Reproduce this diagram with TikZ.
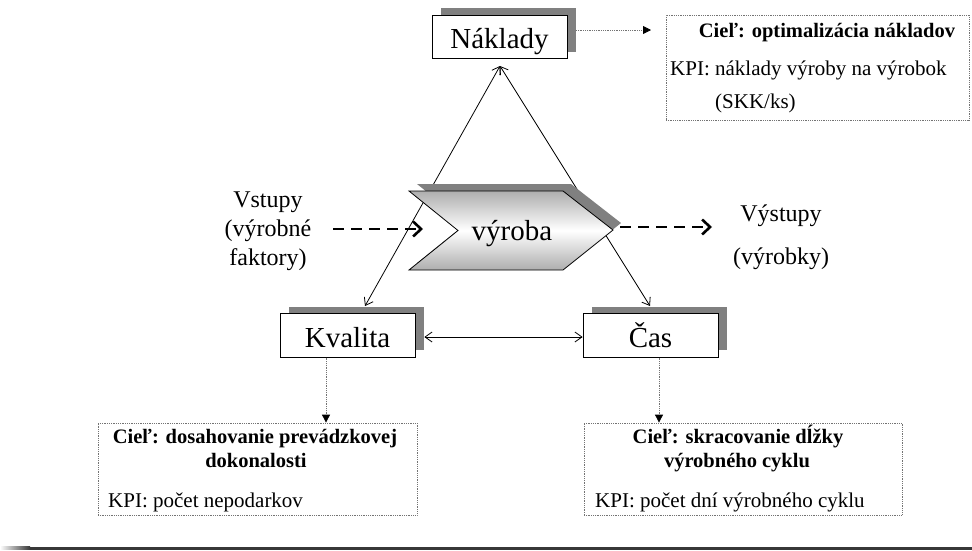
\documentclass[tikz,border=0pt]{standalone}
\usepackage{fontspec}
\setmainfont{LiberationSerif}[Extension=.ttf, UprightFont=*-Regular, BoldFont=*-Bold, ItalicFont=*-Italic, BoldItalicFont=*-BoldItalic]
\usetikzlibrary{arrows.meta,shadows,calc}

\begin{document}
\begin{tikzpicture}[x=1pt,y=-1pt,
  % labelled boxes with a grey offset shadow
  areabox/.style={draw=black, line width=0.8pt, fill=white,
    minimum width=135pt, minimum height=43.5pt, inner sep=0pt,
    text height=23pt, text depth=0pt,
    font=\fontsize{29}{34}\selectfont,
    drop shadow={shadow xshift=8.5pt, shadow yshift=7pt, fill=black!50, opacity=1}},
  % dotted goal boxes
  goalbox/.style={draw=black!55, line width=0.8pt, dash pattern=on 0.9pt off 0.9pt,
    inner sep=0pt},
  goaltxt/.style={inner sep=0pt, font=\fontsize{21}{25}\selectfont},
  goalhead/.style={inner sep=0pt, font=\fontsize{20.5}{25}\selectfont\bfseries},
  flowtxt/.style={inner sep=0pt, align=center, font=\fontsize{24}{29}\selectfont},
  link/.style={line width=0.8pt, {Straight Barb[length=7pt,width=10pt]}-{Straight Barb[length=7pt,width=10pt]}},
  dotarrow/.style={draw=black!55, line width=0.8pt, dash pattern=on 0.9pt off 0.9pt,
    -{Triangle[length=8pt,width=8pt,black]}},
  flowarrow/.style={line width=2.6pt, dash pattern=on 11pt off 7pt,
    -{Straight Barb[length=8pt,width=15pt,line width=2.6pt]}},
]
\useasboundingbox (0,0) rectangle (972,550);

% triangle of relations, passing behind the production chevron
\node[areabox] (nak) at (499.5,37) {Náklady};
\node[areabox] (kva) at (347.5,335.5) {Kvalita};
\node[areabox] (cas) at (650.5,335.5) {Čas};

\coordinate (apex) at (500,66);
\coordinate (kvT) at (365,306);
\coordinate (casT) at (650,306);
\draw[link] (apex) -- (kvT);
\draw[link] (apex) -- (casT);
\draw[link] ([xshift=9pt,yshift=-1.5pt]kva.east) -- ([yshift=-1.5pt]cas.west);

% production chevron
\fill[black!50] (417,184) -- (571,184) -- (621,223) -- (571,263) -- (417,263) -- (466,223.5) -- cycle;
\shade[top color=black!32, bottom color=black!32, middle color=white, draw=black, line width=0.8pt]
  (409,191) -- (563,191) -- (613,230) -- (563,270) -- (409,270) -- (458,230.5) -- cycle;
\node[inner sep=0pt, anchor=base, font=\fontsize{29}{34}\selectfont] (vyr) at (512,240) {výroba};

% goal boxes
\node[goalbox, minimum width=303pt, minimum height=105pt] (gnak) at (817.5,67.5) {};
\node[goalbox, minimum width=319pt, minimum height=92pt] (gkva) at (257.5,469) {};
\node[goalbox, minimum width=318pt, minimum height=92pt] (gcas) at (743,469) {};

\node[goalhead, anchor=base] (gn1) at (827,37) {Cieľ: optimalizácia nákladov};
\node[goaltxt, anchor=base west] (gn2) at (670,75) {KPI: náklady výroby na výrobok};
\node[goaltxt, anchor=base west] (gn3) at (715,108) {(SKK/ks)};

\node[goalhead, anchor=base] (gk1) at (255,443) {Cieľ: dosahovanie prevádzkovej};
\node[goalhead, anchor=base] (gk2) at (256,467) {dokonalosti};
\node[goaltxt, anchor=base west] (gk3) at (108,507) {KPI: počet nepodarkov};

\node[goalhead, anchor=base] (gc1) at (738,443) {Cieľ: skracovanie dĺžky};
\node[goalhead, anchor=base] (gc2) at (737,467) {výrobného cyklu};
\node[goaltxt, anchor=base west] (gc3) at (595,507) {KPI: počet dní výrobného cyklu};

% inputs and outputs
\node[flowtxt] (vst) at (268,231) {Vstupy\\(výrobné\\faktory)};
\node[flowtxt, font=\fontsize{24}{43}\selectfont] (vys) at (781,237) {Výstupy\\(výrobky)};

\coordinate (inS) at (333,229);
\coordinate (inE) at (423,229);
\coordinate (outS) at (620,227);
\coordinate (outE) at (712,227);
\draw[flowarrow] (inS) -- (inE);
\draw[flowarrow] (outS) -- (outE);

% links to the goals
\coordinate (nakR) at (576,30);
\coordinate (nakG) at (651,30);
\draw[dotarrow] (nakR) -- (nakG);
\coordinate (kvD) at (326,357.5);
\coordinate (casD) at (659,357.5);
\draw[dotarrow] (kvD) -- (kvD |- gkva.north);
\draw[dotarrow] (casD) -- (casD |- gcas.north);

% rule along the bottom
\fill[black!78] (30,546.5) rectangle (972,549.5);
\shade[left color=white, right color=black!78] (0,546.5) rectangle (30,549.5);
\end{tikzpicture}
\end{document}
